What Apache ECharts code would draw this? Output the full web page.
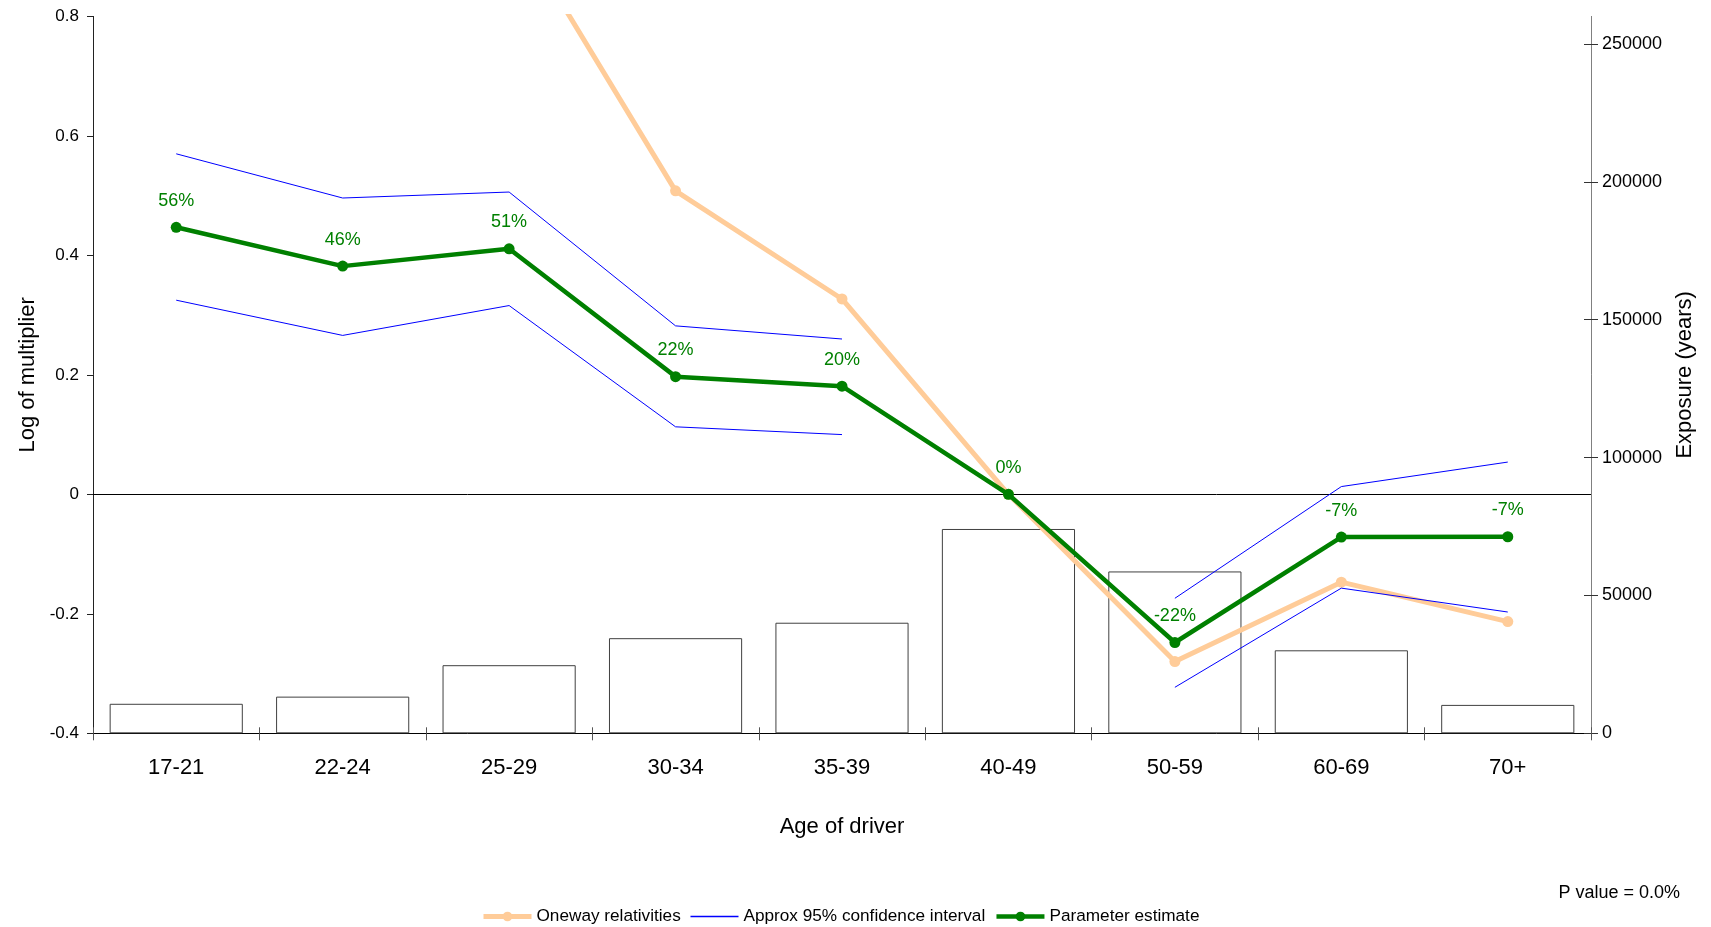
<!DOCTYPE html>
<html>
<head>
<meta charset="utf-8">
<script src="https://cdn.jsdelivr.net/npm/echarts@6/dist/echarts.min.js"></script>
<style>
html,body{margin:0;padding:0;background:#fff;}
#chart{width:1711px;height:927px;}
</style>
</head>
<body>
<div id="chart"></div>
<script>
// ---- data ----
var categories = ['17-21','22-24','25-29','30-34','35-39','40-49','50-59','60-69','70+'];
var exposure = [10700, 13300, 24700, 34500, 40100, 74100, 58700, 30100, 10300];
var oneway = [1.10, 0.95, 0.967, 0.508, 0.327, 0, -0.280, -0.147, -0.213];
var ciUpper = [0.570, 0.496, 0.506, 0.282, 0.260, null, -0.174, 0.013, 0.054];
var ciLower = [0.325, 0.266, 0.316, 0.113, 0.100, null, -0.323, -0.157, -0.197];
var estimate = [0.447, 0.382, 0.411, 0.197, 0.181, 0, -0.248, -0.0715, -0.071];
var estimateLabels = ['56%','46%','51%','22%','20%','0%','-22%','-7%','-7%'];
var leftTicks = [-0.4, -0.2, 0, 0.2, 0.4, 0.6, 0.8];
var rightTicks = [0, 50000, 100000, 150000, 200000, 250000];
var pValueText = 'P value = 0.0%';

var FONT = 'Liberation Sans, Arial, sans-serif';
var chart = echarts.init(document.getElementById('chart'));
var grid = {left: 93, right: 120, top: 16.4, bottom: 193.7};

var option = {
  animation: false,
  backgroundColor: '#fff',
  grid: grid,
  legend: {
    top: 903,
    left: 476,
    itemWidth: 48,
    itemHeight: 12,
    itemGap: 9,
    textStyle: {fontFamily: FONT, fontSize: 17.2, color: '#000'},
    data: [
      {name: 'Oneway relativities', lineStyle: {width: 5}},
      {name: 'Approx 95% confidence interval', itemStyle: {opacity: 0}, lineStyle: {width: 1.5}},
      {name: 'Parameter estimate', lineStyle: {width: 4.5}}
    ]
  },
  graphic: [{
    type: 'text',
    right: 31,
    top: 884,
    style: {text: pValueText, font: '18px ' + FONT, fill: '#000'}
  }],
  xAxis: [{
    type: 'category',
    data: categories,
    boundaryGap: true,
    name: 'Age of driver',
    nameLocation: 'middle',
    nameGap: 83,
    nameTextStyle: {fontFamily: FONT, fontSize: 22, color: '#000'},
    axisLine: {onZero: false, lineStyle: {color: '#000', width: 1}},
    axisTick: {show: true, length: 7, inside: false, lineStyle: {color: '#555'}},
    axisLabel: {fontFamily: FONT, fontSize: 22, color: '#000', margin: 24},
    splitLine: {show: false}
  }, {
    type: 'category',
    data: categories,
    position: 'bottom',
    boundaryGap: true,
    axisLine: {show: false, onZero: false},
    axisTick: {show: true, length: 6, inside: true, lineStyle: {color: '#555'}},
    axisLabel: {show: false},
    splitLine: {show: false}
  }],
  yAxis: [{
    type: 'value',
    min: -0.4, max: 0.8, interval: 0.2,
    position: 'left',
    name: 'Log of multiplier',
    nameLocation: 'middle',
    nameGap: 54,
    nameTextStyle: {fontFamily: FONT, fontSize: 22, color: '#000'},
    axisLine: {show: true, onZero: false, lineStyle: {color: '#222'}},
    axisTick: {show: true, length: 6, inside: false, customValues: leftTicks, lineStyle: {color: '#222'}},
    axisLabel: {fontFamily: FONT, fontSize: 17, color: '#000', margin: 14, customValues: leftTicks,
      formatter: function (v) { return String(Math.round(v * 10) / 10); }},
    splitLine: {show: false}
  }, {
    type: 'value',
    min: 0, max: 260000,
    position: 'right',
    name: 'Exposure (years)',
    nameLocation: 'middle',
    nameGap: 83,
    nameTextStyle: {fontFamily: FONT, fontSize: 22, color: '#000'},
    axisLine: {show: true, onZero: false, lineStyle: {color: '#808080'}},
    axisTick: {show: true, length: 7, inside: false, customValues: rightTicks, lineStyle: {color: '#333'}},
    axisLabel: {fontFamily: FONT, fontSize: 18, color: '#000', margin: 11, customValues: rightTicks,
      formatter: function (v) { return String(Math.round(v)); }},
    splitLine: {show: false}
  }, {
    type: 'value',
    min: 0, max: 260000,
    position: 'right',
    axisLine: {show: false, onZero: false},
    axisTick: {show: true, length: 7, inside: true, customValues: rightTicks, lineStyle: {color: '#333'}},
    axisLabel: {show: false},
    splitLine: {show: false}
  }],
  series: [{
    name: 'Exposure',
    type: 'bar',
    yAxisIndex: 1,
    data: exposure,
    barWidth: '80%',
    itemStyle: {color: '#fff', borderColor: '#404040', borderWidth: 1},
    z: 1,
    silent: true
  }, {
    name: 'Oneway relativities',
    type: 'line',
    data: oneway,
    yAxisIndex: 0,
    symbol: 'circle',
    symbolSize: 11,
    lineStyle: {color: '#FFCC99', width: 5},
    itemStyle: {color: '#FFCC99'},
    clip: true,
    z: 3
  }, {
    name: 'Approx 95% confidence interval',
    type: 'line',
    data: ciUpper,
    symbol: 'none',
    connectNulls: false,
    lineStyle: {color: '#0000FF', width: 1},
    itemStyle: {color: '#0000FF'},
    z: 4
  }, {
    name: 'Approx 95% confidence interval',
    type: 'line',
    data: ciLower,
    symbol: 'none',
    connectNulls: false,
    lineStyle: {color: '#0000FF', width: 1},
    itemStyle: {color: '#0000FF'},
    z: 4
  }, {
    name: 'Parameter estimate',
    type: 'line',
    data: estimate,
    symbol: 'circle',
    symbolSize: 11,
    lineStyle: {color: '#008000', width: 4.5},
    itemStyle: {color: '#008000'},
    label: {
      show: true, position: 'top', distance: 12,
      fontFamily: FONT, fontSize: 18, color: '#008000',
      formatter: function (p) { return estimateLabels[p.dataIndex]; }
    },
    markLine: {
      silent: true,
      symbol: 'none',
      label: {show: false},
      lineStyle: {color: '#000', width: 1, type: 'solid'},
      data: [{yAxis: 0}],
      z: 2
    },
    z: 5
  }]
};
chart.setOption(option);
</script>
</body>
</html>
